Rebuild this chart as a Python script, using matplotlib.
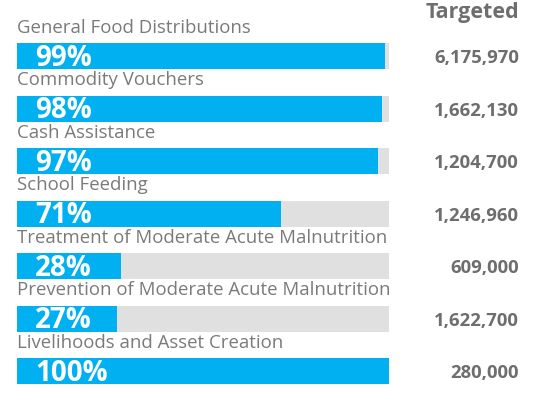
import matplotlib
matplotlib.use("Agg")
from matplotlib import pyplot as plt

categories = [
    "General Food Distributions",
    "Commodity Vouchers",
    "Cash Assistance",
    "School Feeding",
    "Treatment of Moderate Acute Malnutrition",
    "Prevention of Moderate Acute Malnutrition",
    "Livelihoods and Asset Creation",
]
percent_reached = [99, 98, 97, 71, 28, 27, 100]
targeted = ["6,175,970", "1,662,130", "1,204,700", "1,246,960", "609,000", "1,622,700", "280,000"]

BLUE = "#00b0f0"
TRACK = "#e0e0e0"
LABEL_GRAY = "#7a7a7a"
NUM_GRAY = "#6e6e6e"
FONT = "Open Sans"

W, H = 537, 403
fig = plt.figure(figsize=(W / 100, H / 100), dpi=100)
row_h = 52.5
top = 56 - row_h / 2
ax = fig.add_axes([17 / W, 1 - (top + 7 * row_h) / H, 372 / W, 7 * row_h / H])
ax.set_xlim(0, 100)
ax.set_ylim(6.5, -0.5)
ax.axis("off")

ys = list(range(len(categories)))
bar_h = 26 / row_h
ax.barh(ys, [100] * len(ys), height=bar_h, color=TRACK, left=0)
ax.barh(ys, percent_reached, height=bar_h, color=BLUE, left=0)

x_right = (519 - 17) / 372 * 100
for i, (cat, p, t) in enumerate(zip(categories, percent_reached, targeted)):
    ax.text(0, i - 0.44, cat, fontsize=13.4, color=LABEL_GRAY, family=FONT,
            va="baseline", ha="left", clip_on=False)
    ax.text((35 - 17) / 372 * 100, i + 0.19, f"{p}%", fontsize=20, color="white",
            fontweight="bold", family=FONT, va="baseline", ha="left")
    ax.text(x_right, i + 0.14, t, fontsize=13.3, color=NUM_GRAY, fontweight="bold",
            family=FONT, va="baseline", ha="right", clip_on=False)

ax.text(x_right, (18 - 56) / row_h, "Targeted", fontsize=15.5, color=NUM_GRAY,
        fontweight="bold", family=FONT, va="baseline", ha="right", clip_on=False)

fig.savefig("out.png", dpi=100)
